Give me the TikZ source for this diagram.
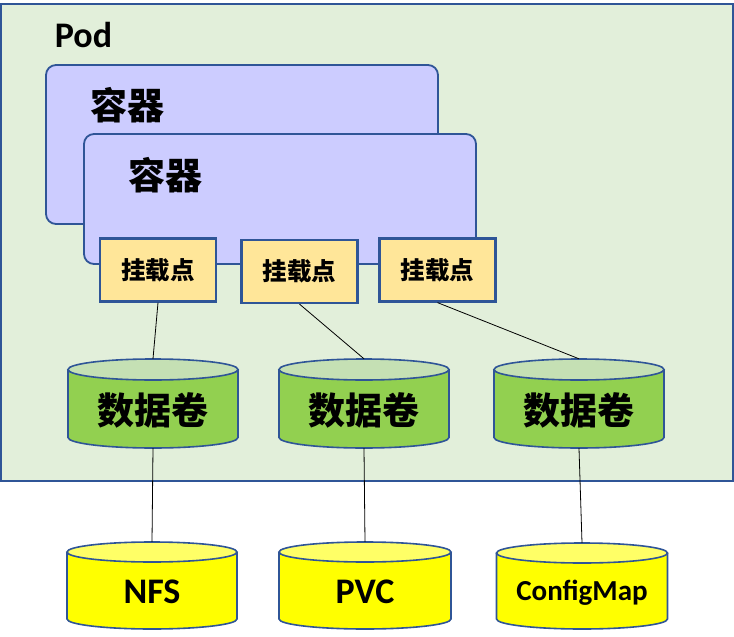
\documentclass[tikz,border=0pt]{standalone}
\usepackage{fontspec}
\setmainfont{Carlito}
\newfontfamily\cjk{Noto Sans CJK SC}
\definecolor{podblue}{HTML}{2F5597}
\definecolor{podfill}{HTML}{E2EFDA}
\definecolor{contfill}{HTML}{CCCCFF}
\definecolor{mountfill}{HTML}{FFE699}
\definecolor{volbody}{HTML}{92D050}
\definecolor{voltop}{HTML}{C5E0B4}
\definecolor{stbody}{HTML}{FFFF00}
\definecolor{sttop}{HTML}{FFFF66}
\tikzset{
  podbox/.style={draw=podblue, line width=1.8pt, fill=podfill},
  contbox/.style={draw=podblue, line width=1.8pt, fill=contfill, rounded corners=10pt},
  mountbox/.style={draw=podblue, line width=2.2pt, fill=mountfill, minimum width=116pt, minimum height=63pt, inner sep=0pt,
    font=\cjk\bfseries\fontsize{24.5}{28}\selectfont},
  cylline/.style={draw=podblue, line width=1.6pt},
  holder/.style={draw=none, inner sep=0pt, minimum width=170pt},
  cjkbig/.style={font=\cjk\bfseries\fontsize{37}{42}\selectfont, inner sep=0pt},
  latbig/.style={font=\bfseries\fontsize{36}{42}\selectfont, inner sep=0pt, anchor=base},
  link/.style={draw=black, line width=0.8pt}
}
% #1 name, #2 centre x, #3 top y, #4 bottom y, #5 half width, #6 ry, #7 body colour, #8 top colour
\newcommand{\drawcyl}[8]{%
  \fill[#7] (#2-#5,-#3-#6) -- (#2-#5,-#4+#6) arc[start angle=180, end angle=360, x radius=#5, y radius=#6] -- (#2+#5,-#3-#6) -- cycle;
  \fill[#8] (#2,-#3-#6) ellipse[x radius=#5, y radius=#6];
  \draw[cylline] (#2-#5,-#3-#6) -- (#2-#5,-#4+#6) arc[start angle=180, end angle=360, x radius=#5, y radius=#6] -- (#2+#5,-#3-#6);
  \draw[cylline] (#2,-#3-#6) ellipse[x radius=#5, y radius=#6];
  \node[holder, minimum height=#4-#3] (#1) at (#2,{-(#3+#4)/2}) {};
}
\begin{document}
\begin{tikzpicture}[x=1pt, y=1pt]
\useasboundingbox (0,0) rectangle (734,-637);
% Pod
\draw[podbox] (1,-4) rectangle (733,-481);
\node[latbig] (podlabel) at (83.5,-47) {Pod};
% containers
\draw[contbox] (46,-65) rectangle (438,-224);
\node[cjkbig] (c1label) at (127,-105) {容器};
\draw[contbox] (84,-134) rectangle (476,-264);
\node[cjkbig] (c2label) at (165,-175) {容器};
% mount points
\node[mountbox] (m1) at (158,-270) {挂载点};
\node[mountbox] (m2) at (299.5,-271.5) {挂载点};
\node[mountbox] (m3) at (437.5,-270) {挂载点};
% volumes
\drawcyl{v1}{153}{359}{448}{85}{10.5}{volbody}{voltop}
\drawcyl{v2}{364}{359}{448}{85}{10.5}{volbody}{voltop}
\drawcyl{v3}{579}{359}{448}{85}{10.5}{volbody}{voltop}
\node[cjkbig] (v1label) at (153,-410) {数据卷};
\node[cjkbig] (v2label) at (364,-410) {数据卷};
\node[cjkbig] (v3label) at (579,-410) {数据卷};
% storage
\drawcyl{s1}{152}{542}{629}{85}{10}{stbody}{sttop}
\drawcyl{s2}{365}{542}{629}{86}{10}{stbody}{sttop}
\drawcyl{s3}{582}{543}{629}{85.5}{10}{stbody}{sttop}
\node[latbig] (s1label) at (152,-603) {NFS};
\node[latbig] (s2label) at (365,-603) {PVC};
\node[latbig, font=\bfseries\fontsize{29}{34}\selectfont] (s3label) at (582,-600) {ConfigMap};
% connectors
\draw[link] (m1.south) -- (v1.north);
\draw[link] (m2.south) -- (v2.north);
\draw[link] (m3.south) -- (v3.north);
\draw[link] (v1.south) -- (s1.north);
\draw[link] (v2.south) -- (s2.north);
\draw[link] (v3.south) -- (s3.north);
\end{tikzpicture}
\end{document}
